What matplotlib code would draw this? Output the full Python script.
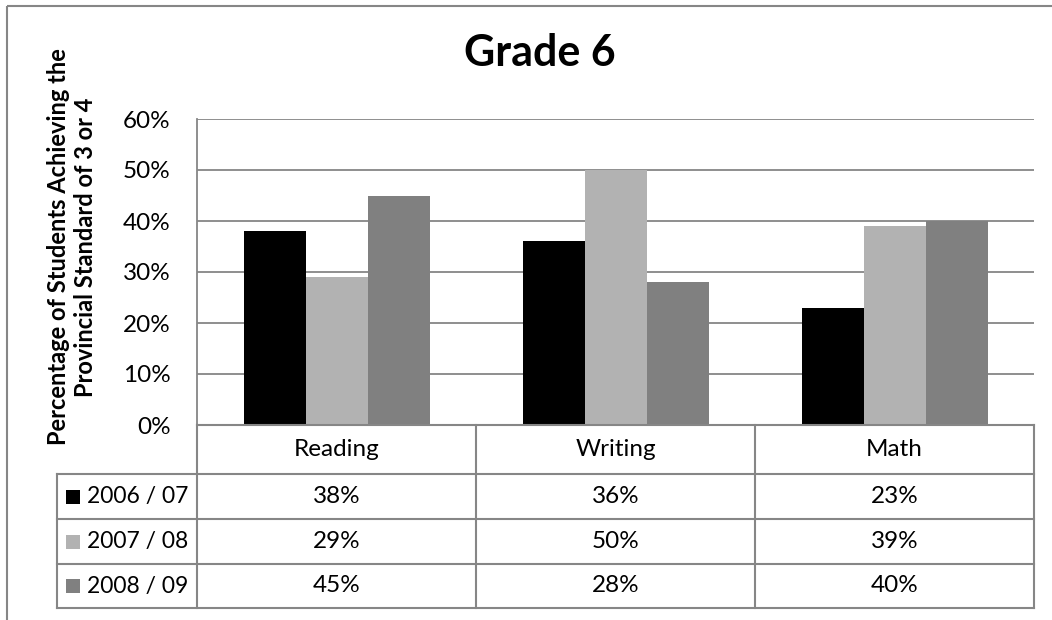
import matplotlib
matplotlib.use("Agg")
import matplotlib.pyplot as plt
from matplotlib.patches import Rectangle

categories = ["Reading", "Writing", "Math"]
series_labels = ["2006 / 07", "2007 / 08", "2008 / 09"]
values_2006_07 = [38, 36, 23]
values_2007_08 = [29, 50, 39]
values_2008_09 = [45, 28, 40]
series_values = [values_2006_07, values_2007_08, values_2008_09]
y_ticks = [0, 10, 20, 30, 40, 50, 60]
y_tick_labels = ["0%", "10%", "20%", "30%", "40%", "50%", "60%"]
title = "Grade 6"
y_label = "Percentage of Students Achieving the\nProvincial Standard of 3 or 4"

colors = ["#000000", "#b2b2b2", "#808080"]
line_col = "#868686"

plt.rcParams['font.family'] = ['Lato', 'DejaVu Sans']

W, H = 1052, 620
fig = plt.figure(figsize=(W / 100, H / 100), dpi=100)
fig.patch.set_facecolor("white")

fs = 17.5

# plot area in pixel layout
L, R, T, B = 197, 1034, 119, 425
ax = fig.add_axes([L / W, 1 - B / H, (R - L) / W, (B - T) / H])
bw = 1 / 4.5
x = list(range(len(categories)))
for i, (vals, col) in enumerate(zip(series_values, colors)):
    ax.bar([xi + (i - 1) * bw for xi in x], vals, width=bw, color=col,
           edgecolor="none", zorder=3)
ax.set_xlim(-0.5, len(categories) - 0.5)
ax.set_ylim(0, 60)
ax.set_yticks(y_ticks)
ax.set_yticklabels(y_tick_labels, fontsize=fs)
ax.set_xticks([])
ax.yaxis.grid(True, color=line_col, linewidth=1.3, zorder=0)
for s in ["top", "right", "bottom"]:
    ax.spines[s].set_visible(False)
ax.spines["left"].set_color(line_col)
ax.spines["left"].set_linewidth(1.3)
ax.tick_params(axis="y", length=0, pad=19, colors="black")

# overlay for table and border
ov = fig.add_axes([0, 0, 1, 1])
ov.set_xlim(0, W)
ov.set_ylim(H, 0)
ov.axis("off")

# outer border
ov.plot([7, 7], [6, H], color=line_col, lw=1.5, solid_capstyle="butt")
ov.plot([7, W], [6, 6], color=line_col, lw=1.5, solid_capstyle="butt")

# table geometry
col_edges = [L + (R - L) * k / len(categories) for k in range(len(categories) + 1)]
row_edges = [425, 474, 519, 564, 608]
lab_left = 57
lw = 1.5
ov.plot([L, R], [row_edges[0], row_edges[0]], color=line_col, lw=lw)
for ry in row_edges[1:]:
    ov.plot([lab_left, R], [ry, ry], color=line_col, lw=lw)
for cx in col_edges:
    ov.plot([cx, cx], [row_edges[0], row_edges[-1]], color=line_col, lw=lw)
ov.plot([lab_left, lab_left], [row_edges[1], row_edges[-1]], color=line_col, lw=lw)

for j, cat in enumerate(categories):
    cx = (col_edges[j] + col_edges[j + 1]) / 2
    ov.text(cx, (row_edges[0] + row_edges[1]) / 2, cat, ha="center", va="center", fontsize=fs)
for i, (lab, vals, col) in enumerate(zip(series_labels, series_values, colors)):
    cy = (row_edges[i + 1] + row_edges[i + 2]) / 2
    ov.add_patch(Rectangle((66, cy - 7), 14, 14, facecolor=col, edgecolor="none"))
    ov.text(87, cy, lab, ha="left", va="center", fontsize=16.5)
    for j, v in enumerate(vals):
        cx = (col_edges[j] + col_edges[j + 1]) / 2
        ov.text(cx, cy, f"{v}%", ha="center", va="center", fontsize=fs)

fig.text(540 / W, 1 - 53 / H, title, ha="center", va="center", fontsize=31, fontweight="bold")
fig.text(72 / W, 1 - 247 / H, y_label, ha="center", va="center", rotation=90,
         fontsize=17, fontweight="bold", multialignment="center", linespacing=1.2)

fig.savefig("out.png", dpi=100)
